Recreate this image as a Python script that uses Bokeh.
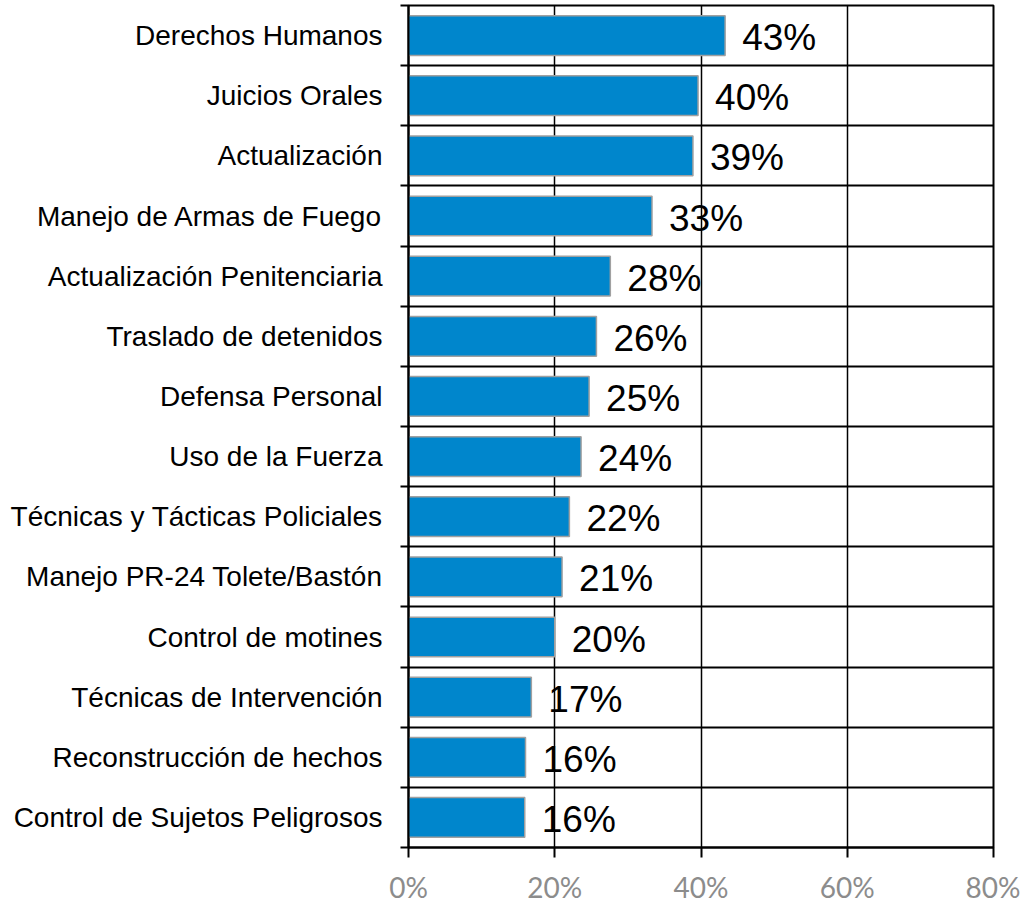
from bokeh.plotting import figure
from bokeh.models import ColumnDataSource, LabelSet, FixedTicker, Range1d, CustomJSTickFormatter
from bokeh.core.properties import value
from bokeh.embed import file_html
from bokeh.resources import INLINE

categories = [
    "Derechos Humanos", "Juicios Orales", "Actualización", "Manejo de Armas de Fuego",
    "Actualización Penitenciaria", "Traslado de detenidos", "Defensa Personal",
    "Uso de la Fuerza", "Técnicas y Tácticas Policiales", "Manejo PR-24 Tolete/Bastón",
    "Control de motines", "Técnicas de Intervención", "Reconstrucción de hechos",
    "Control de Sujetos Peligrosos",
]
values = [43.3, 39.6, 38.9, 33.3, 27.6, 25.7, 24.7, 23.6, 22.0, 21.0, 20.0, 16.8, 16.0, 15.9]
value_labels = ["43%", "40%", "39%", "33%", "28%", "26%", "25%", "24%", "22%", "21%",
                "20%", "17%", "16%", "16%"]
x_ticks = [0, 20, 40, 60, 80]

n = len(categories)
ypos = [n - 0.5 - i for i in range(n)]
boundaries = list(range(n + 1))

src = ColumnDataSource(dict(cat=categories, val=values, lab=value_labels, y=ypos))

p = figure(width=1020, height=906, output_backend="svg", toolbar_location=None,
           x_range=Range1d(0, 80), y_range=Range1d(0, n),
           min_border_left=408, min_border_right=27, min_border_top=5, min_border_bottom=0)

p.hbar(y="y", left=0, right="val", height=0.66, source=src,
       fill_color="#0086CC", line_color="#A0A0A0", line_width=1.5)

# x axis
p.xaxis.ticker = FixedTicker(ticks=x_ticks)
p.xaxis.formatter = CustomJSTickFormatter(code="return tick + '%';")
p.xaxis.axis_line_color = "black"
p.xaxis.axis_line_width = 2
p.xaxis.major_tick_line_color = "black"
p.xaxis.major_tick_line_width = 2
p.xaxis.major_tick_out = 10
p.xaxis.major_tick_in = 0
p.xaxis.minor_tick_line_color = None
p.xaxis.major_label_text_font = "Lato"
p.xaxis.major_label_text_font_size = "28px"
p.xaxis.major_label_text_color = "#8C8C8C"
p.xaxis.major_label_standoff = 12

# y axis: labels at category centres, boundary ticks as minor ticks
p.yaxis.ticker = FixedTicker(ticks=ypos, minor_ticks=boundaries)
p.yaxis.major_label_overrides = {y: c for y, c in zip(ypos, categories)}
p.yaxis.major_label_text_font = "Liberation Sans"
p.yaxis.major_label_text_font_size = "28px"
p.yaxis.major_label_text_color = "black"
p.yaxis.major_label_standoff = 18
p.yaxis.axis_line_color = "black"
p.yaxis.axis_line_width = 2
p.yaxis.major_tick_line_color = None
p.yaxis.major_tick_out = 0
p.yaxis.major_tick_in = 0
p.yaxis.minor_tick_line_color = "black"
p.yaxis.minor_tick_line_width = 2
p.yaxis.minor_tick_out = 8
p.yaxis.minor_tick_in = 0

p.xgrid.ticker = FixedTicker(ticks=x_ticks)
p.xgrid.grid_line_color = "black"
p.xgrid.grid_line_width = 1.5
p.ygrid.ticker = FixedTicker(ticks=boundaries)
p.ygrid.grid_line_color = "black"
p.ygrid.grid_line_width = 2

p.outline_line_color = "black"
p.outline_line_width = 2

val_labels = LabelSet(x="val", y="y", text="lab", source=src, x_offset=17, y_offset=-2,
                      text_align="left", text_baseline="middle",
                      text_font=value("Liberation Sans"), text_font_size="37px",
                      text_color="black")
p.add_layout(val_labels)

open("out.html", "w").write(file_html(p, INLINE))
